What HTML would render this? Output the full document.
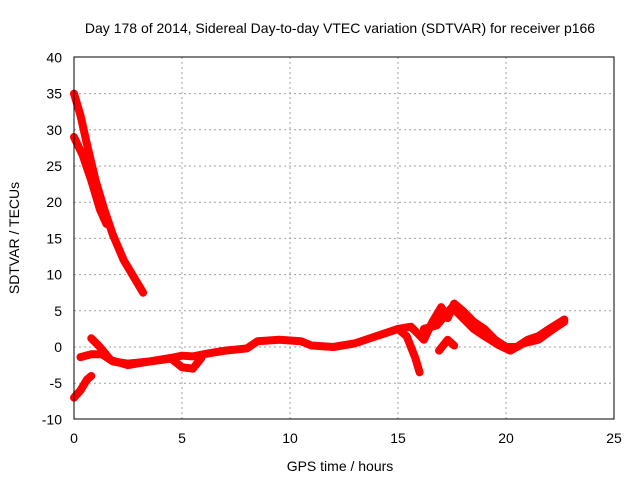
<!DOCTYPE html>
<html><head><meta charset="utf-8"><style>
body{margin:0;background:#fff}
svg text{font-family:"Liberation Sans",sans-serif;font-size:14px;fill:#000}
</style></head><body>
<svg id="chart" width="640" height="480" xmlns="http://www.w3.org/2000/svg">
<rect width="640" height="480" fill="#fff"/>
<g id="grid"></g>
<g id="series"></g>
<rect x="74" y="57" width="540" height="362" fill="none" stroke="#000" stroke-width="1"/>
<g id="ticks"></g>
<text x="340" y="33" text-anchor="middle">Day 178 of 2014, Sidereal Day-to-day VTEC variation (SDTVAR) for receiver p166</text>
<text x="340" y="471" text-anchor="middle">GPS time / hours</text>
<text x="19" y="238" text-anchor="middle" transform="rotate(-90 19 238)">SDTVAR / TECUs</text>
</svg>
<script>
const xTicks=[0,5,10,15,20,25];
const yTicks=[-10,-5,0,5,10,15,20,25,30,35,40];
const trace1=[[0,35],[0.3,32],[0.6,28],[1.0,23],[1.4,19],[1.8,15.5],[2.3,12],[2.8,9.5],[3.2,7.5]];
const trace2=[[0,29],[0.4,26.5],[0.8,23],[1.2,19],[1.5,17]];
const trace3=[[0,-7],[0.3,-6],[0.6,-4.5],[0.8,-4]];
const trace4=[[0.3,-1.4],[0.8,-1],[1.3,-1],[1.8,-2],[2.5,-2.3],[3.5,-2],[4.5,-1.6],[5,-2.8],[5.5,-3],[5.9,-1.5]];
const trace5=[[0.8,1.2],[1.2,0],[1.7,-1.8],[2.5,-2.5],[3.5,-2],[4.5,-1.5],[5,-1.2],[5.5,-1.3],[6,-1],[7,-0.5],[8,-0.2],[8.5,0.8],[9.5,1],[10.5,0.8],[11,0.2],[12,0],[13,0.5],[14,1.5],[15,2.5],[15.4,1.5],[15.8,-1.5],[16,-3.5]];
const trace6=[[15,2.5],[15.6,2.8],[16.2,1],[16.6,3.5],[17,5.5],[17.3,4],[17.6,6],[18,5],[18.5,3.5],[19,2.5],[19.5,1],[20,0],[20.5,0],[21,1],[21.5,1.5],[22,2.5],[22.7,3.8]];
const trace7=[[16.2,2.5],[16.8,3],[17.5,5.5],[18,4],[18.5,2.5],[19,1.5],[19.7,0.2],[20.2,-0.5],[20.8,0.5],[21.5,1],[22.2,2.5],[22.7,3.5]];
const trace8=[[16.9,-0.5],[17.3,1],[17.6,0.2]];
const traces=[trace1,trace2,trace3,trace4,trace5,trace6,trace7,trace8];
const X=h=>74+h*21.6, Y=v=>347-v*7.24;
const NS="http://www.w3.org/2000/svg";
const grid=document.getElementById('grid'),ticks=document.getElementById('ticks'),ser=document.getElementById('series');
function mk(tag,attrs,parent){const e=document.createElementNS(NS,tag);for(const k in attrs)e.setAttribute(k,attrs[k]);parent.appendChild(e);return e;}
xTicks.forEach(t=>{
 if(t>0&&t<25){const g=mk('line',{x1:X(t),x2:X(t),y1:57,y2:419,stroke:'#a0a0a0','stroke-dasharray':'2,3'},grid);
 
 }
 const tk=mk('text',{x:X(t),y:443,'text-anchor':'middle'},ticks);tk.textContent=t;
 
 
});
yTicks.forEach(t=>{
 if(t>-10&&t<40){const g=mk('line',{x1:74,x2:614,y1:Y(t),y2:Y(t),stroke:'#a0a0a0','stroke-dasharray':'2,3'},grid);
 
 }
 const tk=mk('text',{x:62,y:Y(t)+5,'text-anchor':'end'},ticks);tk.textContent=t;
 
 
});
traces.forEach(tr=>{
 const p=mk('polyline',{points:tr.map(d=>X(d[0])+','+Y(d[1])).join(' '),fill:'none',stroke:'#ff0000','stroke-width':8,'stroke-linejoin':'round','stroke-linecap':'round'},ser);
 
 
});
</script>
</body></html>
